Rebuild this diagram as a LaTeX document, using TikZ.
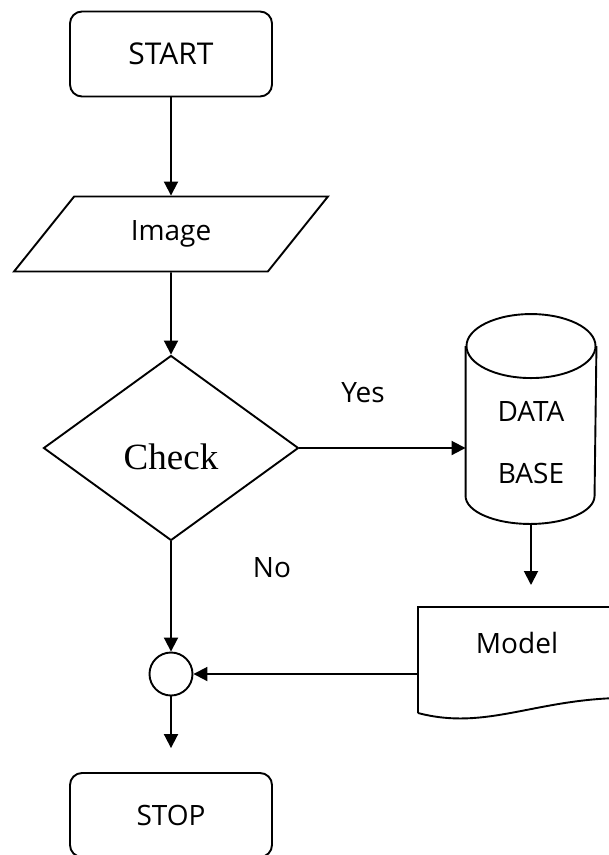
\documentclass[tikz,border=0pt]{standalone}
\usepackage{fontspec}
\setmainfont{Open Sans}
\newfontfamily\checkfont{Liberation Serif}
\usetikzlibrary{arrows.meta, shapes.geometric, positioning}

\begin{document}
\begin{tikzpicture}[x=1pt, y=-1pt, line width=1.9pt, >={Triangle[length=14pt,width=14pt]},
  every node/.style={font=\fontsize{28}{34}\selectfont},
  termbox/.style={rectangle, rounded corners=12pt, draw, minimum width=202pt, minimum height=85pt},
  iobox/.style={trapezium, trapezium left angle=51, trapezium right angle=129, trapezium stretches=true, draw, minimum width=314pt, minimum height=75pt},
  testbox/.style={diamond, draw, minimum width=255pt, minimum height=185pt, text height=43pt, text depth=0pt, font=\checkfont\fontsize{37}{40}\selectfont},
  dbbox/.style={rectangle, minimum width=129pt, minimum height=208pt}]
\useasboundingbox (0,0) rectangle (609,855);
\clip (0,0) rectangle (609,855);

% Main column
\node[termbox, font=\fontsize{30}{34}\selectfont] (start) at (171,54) {START};
\node[iobox] (image) at (171,234) {Image};
\node[testbox] (check) at (171,448) {Check};
\node[circle, draw, minimum size=43pt, inner sep=0pt] (merge) at (171,674) {};
\node[termbox, minimum height=84pt] (stop) at (171,815) {STOP};

% Data base
\node[dbbox] (db) at (531,419) {};
\draw ([yshift=-32pt]db.north) ellipse [x radius=64.5, y radius=32];
\draw ([yshift=-32pt]db.north west) -- ([yshift=28pt]db.south west)
  arc [start angle=180, end angle=0, x radius=64.5, y radius=28] -- ([yshift=-32pt]db.north east);
\node[align=center] (dbtext) at (531,443) {DATA\\[28pt]BASE};

% Model
\coordinate (docnw) at (418,607);
\coordinate (docsw) at (418,713);
\coordinate (docw) at (418,674);
\draw (docsw) -- (docnw) -- (640,607) -- (640,698) .. controls (540,695) and (490,732) .. (docsw);
\node (model) at (517,643) {Model};

% Labels
\node (yes) at (363,393) {Yes};
\node (no) at (272,568) {No};

% Arrows
\draw[->] (start) -- (image);
\draw[->] (image) -- (check);
\draw[->] (check.east) -- (check.east -| db.west);
\draw[->] (check) -- (merge);
\draw[->, shorten >=22pt] (db.south) -- (db.south |- docnw);
\draw[->] (docw) -- (merge);
\draw[->, shorten >=24pt] (merge) -- (stop);
\end{tikzpicture}
\end{document}
